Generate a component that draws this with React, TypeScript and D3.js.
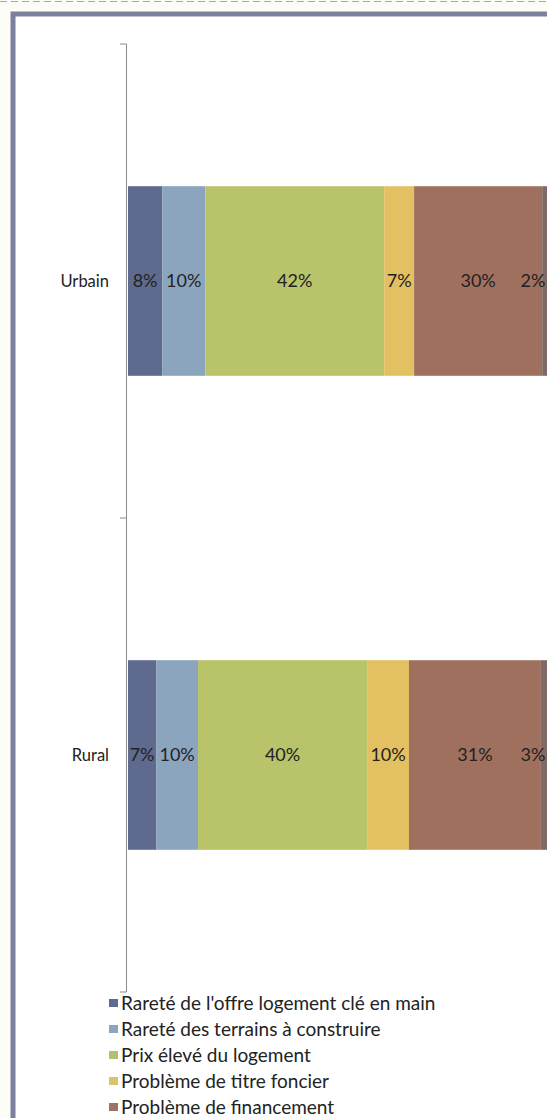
import React from 'react'
import * as d3 from 'd3'

// values (percent of respondents)
const categories = ['Urbain', 'Rural']
const seriesNames = [
    'Rareté de l\'offre logement clé en main',
    'Rareté des terrains à construire',
    'Prix élevé du logement',
    'Problème de titre foncier',
    'Problème de financement',
    'Autre',
]
const urbainValues = [8.0, 10.1, 41.9, 7.0, 30.0, 2.4]
const ruralValues = [6.6, 9.8, 39.6, 9.8, 30.9, 3.3]
const seriesColors = ['#5f6a8f', '#8ca5bf', '#b8c36a', '#e3c062', '#a0705e', '#7e6a66']
const legendColors = ['#5f6a8f', '#8ca5bf', '#b3c070', '#d9c46c', '#9c7468']

const W = 547
const H = 1118
const FONT = 'Lato, "Open Sans", sans-serif'

export default function App () {
    const valuesByCat: Record<string, number[]> = { Urbain: urbainValues, Rural: ruralValues }

    const x = d3.scaleLinear().domain([0, 100]).range([128, 555])
    const y = d3.scaleBand().domain(categories).range([44, 992]).padding(0)
    const barH = y.bandwidth() * 0.4
    const fmt = d3.format('.0%')

    const rows = categories.map(cat => {
        const vals = valuesByCat[cat]
        let acc = 0
        return {
            cat,
            segs: vals.map((v, i) => {
                const s = { i, v, x0: acc, x1: acc + v }
                acc += v
                return s
            }),
        }
    })

    const ticks = [...categories.map(c => y(c) as number), 992]

    return <svg width={W} height={H} style={{ position: 'absolute', left: 0, top: 0 }}
        fontFamily={FONT}>
        <rect x={0} y={0} width={W} height={H} fill='#fdfdf7' />
        <line x1={0} x2={W} y1={1.5} y2={1.5} stroke='#a8a8a8' strokeDasharray='7 4' />
        <rect x={13} y={14} width={620} height={1200} fill='#ffffff' stroke='#7b809e' strokeWidth={5} />

        {rows.map(r => {
            const y0 = (y(r.cat) as number) + (y.bandwidth() - barH) / 2
            const cy = y0 + barH / 2
            return <g key={r.cat}>
                {r.segs.map(s => <rect key={s.i}
                    x={x(s.x0)} y={y0}
                    width={x(s.x1) - x(s.x0)} height={barH}
                    fill={seriesColors[s.i]} />)}
                {r.segs.map(s => <text key={'t' + s.i}
                    x={Math.min((x(s.x0) + x(s.x1)) / 2, W - 14)} y={cy} dy='0.35em'
                    textAnchor='middle' fontSize={18} fill='#222'>
                    {fmt(s.v / 100)}
                </text>)}
                <text x={109} y={cy} dy='0.35em' textAnchor='end' fontSize={16.5}
                    fill='#222'>
                    {r.cat}
                </text>
            </g>
        })}

        <line x1={126.5} x2={126.5} y1={44} y2={992} stroke='#8a8a8a' strokeWidth={1} />
        {ticks.map((t, i) => <line key={i} x1={120} x2={126.5} y1={t} y2={t}
            stroke='#8a8a8a' strokeWidth={1} />)}

        {seriesNames.slice(0, 5).map((name, i) => {
            const ly = 1003 + i * 26
            return <g key={name}>
                <rect x={109} y={ly - 4} width={9} height={8} fill={legendColors[i]} />
                <text x={121} y={ly} dy='0.35em' fontSize={19} fill='#222'>{name}</text>
            </g>
        })}
    </svg>
}
